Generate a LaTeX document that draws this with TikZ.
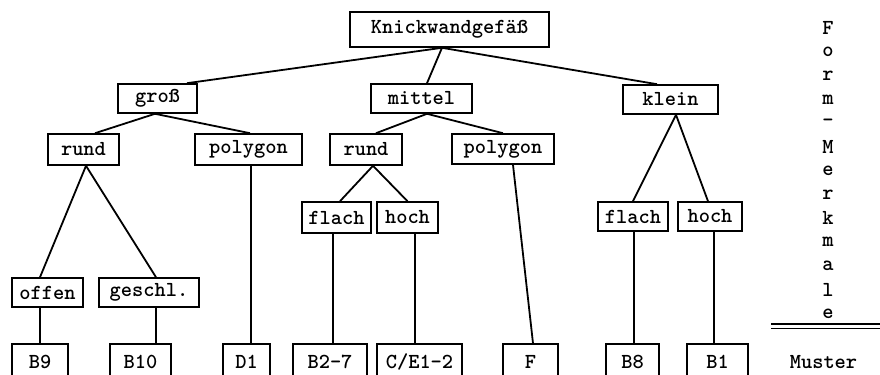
\documentclass[tikz,border=0pt]{standalone}
\usetikzlibrary{calc}
\begin{document}
\begin{tikzpicture}[x=0.5pt,y=-0.5pt,
  every node/.style={font=\fontsize{10.7}{12}\selectfont\ttfamily\bfseries},
  box/.style={draw, line width=0.8pt, inner sep=0pt},
  sz/.style 2 args={minimum width=#1*0.5pt, minimum height=#2*0.5pt},
  link/.style={line width=0.9pt},
  letter/.style={inner sep=0pt}]
\useasboundingbox (0,0) rectangle (880,375);
\clip (0,0) rectangle (880,375);

% root and first level
\node[box, sz={199}{35}] (knick)  at (449.5,29.5) {Knickwandgefäß};
\node[box, sz={79}{29}]  (gross)  at (157.5,98.5) {groß};
\node[box, sz={101}{29}] (mittel) at (421.5,98.5) {mittel};
\node[box, sz={95}{29}]  (klein)  at (670.5,99.5) {klein};

% second level
\node[box, sz={71}{31}]  (rundA) at (83.5,149.5) {rund};
\node[box, sz={107}{31}] (polyA) at (248.5,149.5) {polygon};
\node[box, sz={72}{31}]  (rundB) at (366,149.5) {rund};
\node[box, sz={102}{30}] (polyB) at (503,149) {polygon};

% third level
\node[box, sz={69}{31}] (flachA) at (336.5,217.5) {flach};
\node[box, sz={61}{31}] (hochA)  at (407.5,217.5) {hoch};
\node[box, sz={70}{29}] (flachB) at (633,216.5) {flach};
\node[box, sz={64}{29}] (hochB)  at (710,216.5) {hoch};
\node[box, sz={71}{29}] (offen)  at (47.5,292.5) {offen};
\node[box, sz={100}{29}] (geschl) at (149,292.5) {geschl.};

% patterns (Muster) row
\node[box, sz={56}{36}] (bNine)  at (40,362) {B9};
\node[box, sz={61}{36}] (bTen)   at (140.5,362) {B10};
\node[box, sz={47}{36}] (dOne)   at (246.5,362) {D1};
\node[box, sz={74}{36}] (bTwo)   at (330,362) {B2-7};
\node[box, sz={85}{36}] (ce)     at (419.5,362) {C/E1-2};
\node[box, sz={55}{36}] (eff)    at (530.5,362) {F};
\node[box, sz={53}{36}] (bEight) at (632.5,362) {B8};
\node[box, sz={61}{36}] (bOne)   at (717.5,362) {B1};

% connectors
\coordinate (k0) at ($(knick.south)+(-7.5,0)$);
\draw[link] (k0) -- ($(gross.north)+(29.5,0)$);
\draw[link] (k0) -- ($(mittel.north)+(5.5,0)$);
\draw[link] (k0) -- ($(klein.north)+(-13.5,0)$);

\draw[link] ($(gross.south)+(-2.5,0)$) -- ($(rundA.north)+(11.5,0)$);
\draw[link] ($(gross.south)+(-2.5,0)$) -- ($(polyA.north)+(1.5,0)$);
\draw[link] ($(rundA.south)+(2.5,0)$) -- ($(offen.north)+(-7.5,0)$);
\draw[link] ($(rundA.south)+(2.5,0)$) -- ($(geschl.north)+(7,0)$);
\draw[link] ($(polyA.south)+(2.5,0)$) -- ($(dOne.north)+(4.5,0)$);
\draw[link] ($(offen.south)+(-7.5,0)$) -- (bNine.north);
\draw[link] ($(geschl.south)+(7,0)$) -- ($(bTen.north)+(15.5,0)$);

\draw[link] ($(mittel.south)+(5.5,0)$) -- ($(rundB.north)+(10,0)$);
\draw[link] ($(mittel.south)+(5.5,0)$) -- (polyB.north);
\draw[link] ($(rundB.south)+(7,0)$) -- ($(flachA.north)+(3.5,0)$);
\draw[link] ($(rundB.south)+(7,0)$) -- (hochA.north);
\draw[link] ($(flachA.south)+(-3.5,0)$) -- ($(bTwo.north)+(3,0)$);
\draw[link] ($(hochA.south)+(7.5,0)$) -- ($(ce.north)+(-4.5,0)$);
\draw[link] ($(polyB.south)+(10,0)$) -- ($(eff.north)+(2.5,0)$);

\draw[link] ($(klein.south)+(5.5,0)$) -- (flachB.north);
\draw[link] ($(klein.south)+(5.5,0)$) -- ($(hochB.north)+(-2,0)$);
\draw[link] ($(flachB.south)+(1,0)$) -- ($(bEight.north)+(1.5,0)$);
\draw[link] ($(hochB.south)+(4,0)$) -- ($(bOne.north)+(-3.5,0)$);

% vertical heading "Form-Merkmale"
\foreach \ch [count=\i from 0] in {F,o,r,m,-,M,e,r,k,m,a,l,e}
  \node[letter] (lt\i) at (828,{28+23.8*\i}) {\ch};

% double rule and row label
\coordinate (ruleL) at (771,324);
\coordinate (ruleR) at (880,324);
\draw[line width=0.8pt] (ruleL) -- (ruleR);
\draw[line width=0.8pt] ($(ruleL)+(0,4.5)$) -- ($(ruleR)+(0,4.5)$);
\node (muster) at (823.5,362) {Muster};
\end{tikzpicture}
\end{document}
